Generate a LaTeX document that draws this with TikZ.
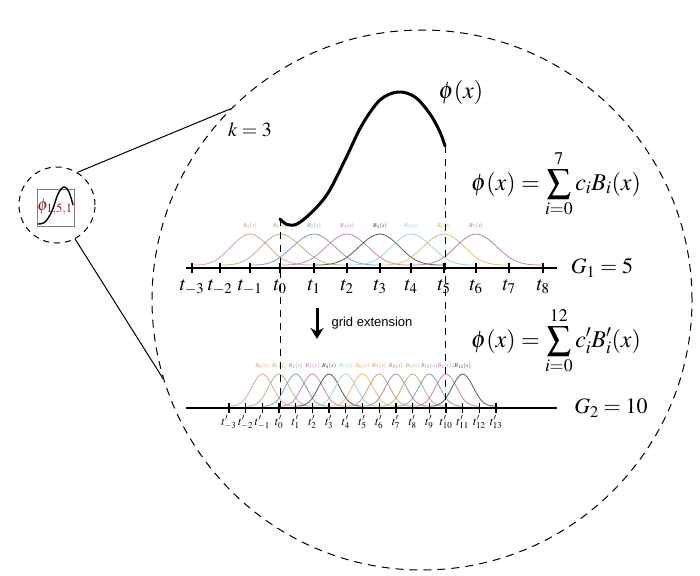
\documentclass[tikz,border=0pt]{standalone}
\usepackage{mathptmx}
\usepackage[no-math]{fontspec}
\newfontfamily\helv{Liberation Sans}
\usetikzlibrary{arrows.meta}
\definecolor{c0}{RGB}{214,150,130}
\definecolor{c1}{RGB}{160,175,110}
\definecolor{c2}{RGB}{110,140,185}
\definecolor{c3}{RGB}{195,110,175}
\definecolor{c4}{RGB}{60,60,60}
\definecolor{c5}{RGB}{140,205,215}
\definecolor{c6}{RGB}{225,180,90}
\definecolor{c7}{RGB}{175,110,150}
\definecolor{c8}{RGB}{200,140,100}
\definecolor{darkred}{RGB}{150,25,25}
\newcommand\bspl[8]{%
 \draw[#1,bline] (#2,#7)
 .. controls ({#2+(#3-#2)/3},#7) and ({#2+2*(#3-#2)/3},#7) .. (#3,{#7-0.25*#8})
 .. controls ({#3+(#4-#3)/3},{#7-0.5*#8}) and ({#3+2*(#4-#3)/3},{#7-#8}) .. (#4,{#7-#8})
 .. controls ({#4+(#5-#4)/3},{#7-#8}) and ({#4+2*(#5-#4)/3},{#7-0.5*#8}) .. (#5,{#7-0.25*#8})
 .. controls ({#5+(#6-#5)/3},#7) and ({#5+2*(#6-#5)/3},#7) .. (#6,#7);}
\tikzset{
 bline/.style={line width=0.8pt, opacity=0.85},
 axisline/.style={line width=2.6pt},
 tickmark/.style={line width=1.8pt},
 guide/.style={line width=1pt, dash pattern=on 7pt off 6pt},
 bigtxt/.style={font=\fontsize{24}{28}\selectfont, inner sep=0pt},
 tlab/.style={font=\fontsize{20}{24}\selectfont, inner sep=0pt, anchor=base},
 tplab/.style={font=\fontsize{12}{14}\selectfont, inner sep=0pt, anchor=base},
 blab/.style={font=\fontsize{6}{7}\selectfont, inner sep=0pt},
 phicurve/.style={line width=3pt, line cap=round},
}
\begin{document}
\begin{tikzpicture}[x=1pt,y=-1pt]
\useasboundingbox (0,0) rectangle (700,575);
\fill[white] (0,0) rectangle (700,575);
% magnifier circles
\node[draw, circle, minimum size=540pt, inner sep=0pt, line width=1pt, dash pattern=on 8pt off 6pt] (big) at (422,300) {};
\node[draw, circle, minimum size=76pt, inner sep=0pt, line width=1pt, dash pattern=on 6pt off 5pt] (small) at (57,205) {};
\draw[line width=1pt] (small.58) -- (big.135);
\draw[line width=1pt] (small.-62) -- (big.197);
% small box
\node[draw=gray, line width=0.8pt, minimum size=37pt, inner sep=0pt] (sbox) at (55.5,207.5) {};
\draw[line width=1.4pt] plot[smooth, tension=0.6] coordinates {(38,224) (45,222) (52,211) (58,194) (64,187) (69,192) (73,205)};
\node[text=darkred, inner sep=0pt, font=\fontsize{17}{19}\selectfont] (slab) at (55,207) {$\phi_{1,5,1}$};
% top B-splines
\def\tk{{192,220,250,280,314,347,380,411,444,476,509,543}}
\foreach \i in {0,...,7}{
 \pgfmathsetmacro\xa{\tk[\i]}
 \pgfmathsetmacro\xb{\tk[\i+1]}
 \pgfmathsetmacro\xc{\tk[\i+2]}
 \pgfmathsetmacro\xd{\tk[\i+3]}
 \pgfmathsetmacro\xe{\tk[\i+4]}
 \bspl{c\i}{\xa}{\xb}{\xc}{\xd}{\xe}{265}{31}
 \node[blab, text=c\i] (bt\i) at (\xc,226) {$B_{\i}(x)$};
}
% bottom B-splines
\foreach \i/\c in {0/c0,1/c1,2/c2,3/c3,4/c4,5/c5,6/c6,7/c8,8/c7,9/c1,10/c2,11/c3,12/c4}{
 \pgfmathsetmacro\xa{279+16.7*(\i-3)}
 \pgfmathsetmacro\xb{279+16.7*(\i-2)}
 \pgfmathsetmacro\xc{279+16.7*(\i-1)}
 \pgfmathsetmacro\xd{279+16.7*(\i)}
 \pgfmathsetmacro\xe{279+16.7*(\i+1)}
 \bspl{\c}{\xa}{\xb}{\xc}{\xd}{\xe}{406}{32}
 \node[blab, text=\c] (bb\i) at (\xc,366) {$B_{\i}(x)$};
}
% axes
\coordinate (a1s) at (186,268); \coordinate (a1e) at (557,268);
\coordinate (a2s) at (186,408); \coordinate (a2e) at (557,408);
\draw[axisline] (a1s) -- (a1e);
\draw[axisline] (a2s) -- (a2e);
\foreach \x/\l in {192/-3,220/-2,250/-1,280/0,314/1,347/2,380/3,411/4,444/5,476/6,509/7,543/8}{
 \draw[tickmark] (\x,263) -- (\x,273);
 \node[tlab] (tl\l) at (\x,290) {$t_{\l}$};
}
\foreach \j in {-3,...,13}{
 \pgfmathsetmacro\xx{279+16.7*\j}
 \draw[line width=1.3pt] (\xx,403) -- (\xx,413);
 \node[tplab] (tp\j) at (\xx,425) {$t'_{\j}$};
}
% guides
\coordinate (g0a) at (280,219); \coordinate (g0b) at (280,408);
\coordinate (g5a) at (445,146); \coordinate (g5b) at (445,408);
\draw[guide] (g0a) -- (g0b);
\draw[guide] (g5a) -- (g5b);
% phi curve
\draw[phicurve] plot[smooth, tension=0.55] coordinates {(280,219) (287,224.5) (297,224) (312,212) (328,193) (345,160) (362,125) (380,100) (398,92) (415,97) (430,114) (440,132) (445,146)};
% texts
\node[bigtxt] (phi) at (461,93) {$\phi(x)$};
\node[font=\fontsize{20}{24}\selectfont, inner sep=0pt] (k) at (250,130) {$k=3$};
\node[bigtxt] (f1) at (556,184) {$\displaystyle \phi(x)=\sum_{i=0}^{7} c_iB_i(x)$};
\node[bigtxt] (f2) at (556,341) {$\displaystyle \phi(x)=\sum_{i=0}^{12} c'_iB'_i(x)$};
\node[font=\fontsize{22}{26}\selectfont, inner sep=0pt] (G1) at (602,268) {$G_1=5$};
\node[font=\fontsize{22}{26}\selectfont, inner sep=0pt] (G2) at (611,408) {$G_2=10$};
% grid extension arrow
\coordinate (ea) at (317,308); \coordinate (eb) at (317,339);
\draw[line width=3pt, -{Stealth[length=11pt, width=13pt]}] (ea) -- (eb);
\node[font=\helv\fontsize{13}{15}\selectfont, inner sep=0pt] (ge) at (372,323) {grid extension};
\end{tikzpicture}
\end{document}
